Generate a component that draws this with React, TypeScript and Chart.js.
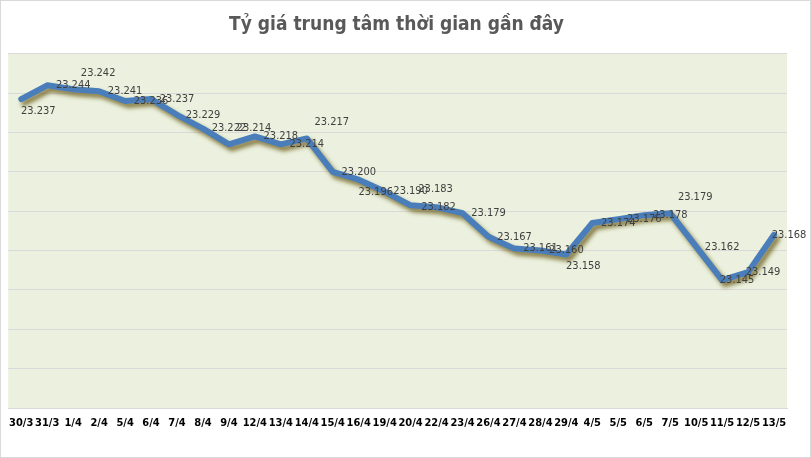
import React, { useEffect, useRef } from "react";
import { Chart, registerables } from "chart.js";

Chart.register(...registerables);

const categories: string[] = [
  "30/3", "31/3", "1/4", "2/4", "5/4", "6/4", "7/4", "8/4", "9/4", "12/4",
  "13/4", "14/4", "15/4", "16/4", "19/4", "20/4", "22/4", "23/4", "26/4", "27/4",
  "28/4", "29/4", "4/5", "5/5", "6/5", "7/5", "10/5", "11/5", "12/5", "13/5",
];

const rates: number[] = [
  23.237, 23.244, 23.242, 23.241, 23.236, 23.237, 23.229, 23.222, 23.214, 23.218,
  23.214, 23.217, 23.2, 23.196, 23.19, 23.183, 23.182, 23.179, 23.167, 23.161,
  23.16, 23.158, 23.174, 23.176, 23.178, 23.179, 23.162, 23.145, 23.149, 23.168,
];

const yMin = 23.08;
const yMax = 23.26;
const yStep = 0.02;

const TITLE = "Tỷ giá trung tâm thời gian gần đây";

// label placement keywords (style)
const labelAlign: string[] = [
  "below", "right", "above", "right", "right", "right", "right", "right", "above", "right",
  "right", "above", "right", "below", "right", "above", "center", "right", "right", "right",
  "right", "below", "right", "right", "right", "above", "right", "near", "near", "near",
];

const FONT = "'Liberation Sans Narrow', 'DejaVu Sans Condensed', sans-serif";

const bgPlugin = {
  id: "bgPlugin",
  beforeDraw(chart: any) {
    const { ctx, chartArea, width, height } = chart;
    ctx.save();
    ctx.fillStyle = "#ffffff";
    ctx.fillRect(0, 0, width, height);
    ctx.fillStyle = "#EBF1DE";
    ctx.fillRect(chartArea.left, chartArea.top, chartArea.right - chartArea.left, chartArea.bottom - chartArea.top);
    ctx.restore();
  },
  afterDraw(chart: any) {
    const { ctx, width, height } = chart;
    ctx.save();
    ctx.strokeStyle = "#d9d9d9";
    ctx.lineWidth = 1;
    ctx.strokeRect(0.5, 0.5, width - 1, height - 1);
    ctx.restore();
  },
};

const shadowPlugin = {
  id: "shadowPlugin",
  beforeDatasetDraw(chart: any) {
    const ctx = chart.ctx;
    ctx.save();
    ctx.shadowColor = "rgba(110, 95, 30, 0.8)";
    ctx.shadowBlur = 4;
    ctx.shadowOffsetX = 3;
    ctx.shadowOffsetY = 4;
  },
  afterDatasetDraw(chart: any) {
    chart.ctx.restore();
  },
};

const labelPlugin = {
  id: "labelPlugin",
  afterDatasetsDraw(chart: any) {
    const ctx = chart.ctx;
    const meta = chart.getDatasetMeta(0);
    ctx.save();
    ctx.font = `11px ${FONT}`;
    ctx.fillStyle = "#404040";
    ctx.textAlign = "center";
    ctx.textBaseline = "middle";
    meta.data.forEach((pt: any, i: number) => {
      const v = rates[i];
      const txt = v.toFixed(3);
      const a = labelAlign[i];
      let dx = 26;
      let dy = 0;
      if (a === "above") { dx = 25; dy = -16; }
      else if (a === "below") { dx = 17; dy = 12; }
      else if (a === "center") { dx = 2; dy = 0; }
      else if (a === "near") { dx = 15; dy = 0; }
      ctx.fillText(txt, pt.x + dx, pt.y + dy);
    });
    ctx.restore();
  },
};

export default function App() {
  const ref = useRef<HTMLCanvasElement | null>(null);

  useEffect(() => {
    document.body.style.margin = "0";
    if (!ref.current) return;
    const chart = new Chart(ref.current, {
      type: "line",
      data: {
        labels: categories,
        datasets: [
          {
            data: rates,
            borderColor: "#4A7EBB",
            borderWidth: 6,
            borderJoinStyle: "round",
            borderCapStyle: "round",
            pointRadius: 0,
            pointHoverRadius: 0,
            tension: 0,
            fill: false,
          },
        ],
      },
      options: {
        responsive: false,
        animation: false,
        devicePixelRatio: 1,
        layout: { padding: { left: 6, right: 24, top: 0, bottom: 0 } },
        plugins: {
          legend: { display: false },
          tooltip: { enabled: false },
          title: {
            display: true,
            text: TITLE,
            color: "#595959",
            font: { family: FONT, size: 19, weight: "bold" },
            padding: { top: 14, bottom: 17 },
          },
        },
        scales: {
          x: {
            offset: true,
            grid: { display: false, drawTicks: false },
            border: { display: true, color: "#d9d9d9" },
            ticks: {
              autoSkip: false,
              maxRotation: 0,
              minRotation: 0,
              color: "#000000",
              padding: 9,
              font: { family: FONT, size: 11, weight: "bold" },
            },
            afterFit(scale: any) {
              scale.height = 50;
            },
          },
          y: {
            min: yMin,
            max: yMax,
            ticks: { display: false, stepSize: yStep },
            grid: { color: "#d9d9d9", drawTicks: false },
            border: { display: false },
            afterFit(scale: any) {
              scale.width = 0;
            },
          },
        },
      },
      plugins: [bgPlugin, shadowPlugin, labelPlugin],
    } as any);
    return () => chart.destroy();
  }, []);

  return (
    <div style={{ width: 811, height: 458 }}>
      <canvas ref={ref} width={811} height={458} style={{ display: "block" }} />
    </div>
  );
}
